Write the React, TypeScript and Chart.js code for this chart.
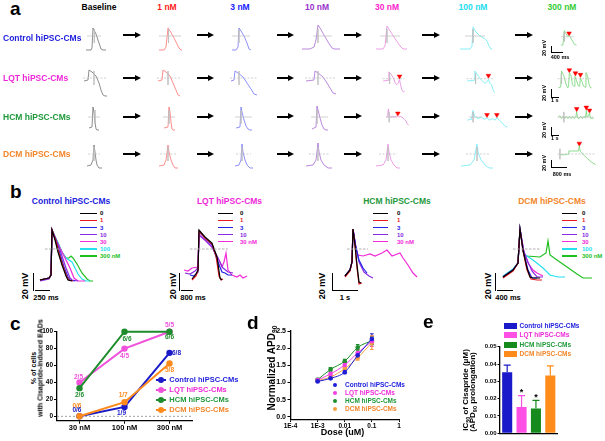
import React, { useEffect, useRef } from 'react';
import { Chart, registerables } from 'chart.js';

Chart.register(...registerables);

const FONT = '"Liberation Sans", Arial, Helvetica, sans-serif';

// ================= DATA =================
// ---- panel a ----
const aColumns = ['Baseline', '1 nM', '3 nM', '10 nM', '30 nM', '100 nM', '300 nM'];
const aRows = ['Control hiPSC-CMs', 'LQT hiPSC-CMs', 'HCM hiPSC-CMs', 'DCM hiPSC-CMs'];

// traces: [time ms, membrane potential mV]
const aCtrl0 = [[0,-56],[150,-56],[180,-48],[210,32],[240,24],[300,8],[360,-16],[420,-40],[450,-52],[510,-56],[600,-56]];
const aCtrl1 = [[0,-56],[150,-56],[210,-44],[270,32],[330,20],[420,0],[510,-24],[600,-48],[660,-56],[690,-56]];
const aCtrl3 = [[0,-56],[120,-56],[180,-44],[210,32],[270,20],[360,0],[450,-28],[510,-52],[570,-56]];
const aCtrl10 = [[0,-52],[240,-52],[360,-44],[420,-16],[480,44],[540,32],[660,4],[780,-24],[900,-48],[960,-52],[1140,-52]];
const aCtrl30 = [[0,-52],[210,-52],[270,-40],[330,40],[480,8],[600,-16],[720,-40],[810,-52],[930,-52]];
const aCtrl100 = [[0,-52],[300,-52],[360,-40],[390,36],[480,16],[600,0],[720,-8],[810,-20],[870,-40],[930,-52],[960,-52]];
const aCtrl300 = [[150,-48],[240,-48],[300,36],[360,20],[450,4],[510,8],[570,-4],[660,-24],[750,-44],[840,-48]];

const aLqt0 = [[100,-12],[500,-8],[600,32],[900,24],[1300,8],[1600,-20],[1800,-48],[2000,-68],[2200,-72],[2400,-72]];
const aLqt1 = [[100,-12],[500,-8],[600,32],[900,24],[1300,8],[1600,-20],[1900,-48],[2100,-68],[2300,-72]];
const aLqt3 = [[100,-12],[400,-8],[500,28],[800,20],[1300,4],[1700,-20],[2100,-44],[2400,-64],[2700,-68]];
const aLqt10 = [[100,-12],[900,-8],[1000,28],[1300,20],[1800,4],[2200,-20],[2500,-40],[2800,-60],[3100,-64]];
const aLqt30 = [[100,-12],[800,-8],[900,36],[1200,24],[1600,0],[1800,-24],[2000,-32],[2200,-24],[2400,-4],[2500,-24],[2700,-56],[2900,-68],[3100,-68]];
const aLqt100 = [[100,-12],[1000,-8],[1100,40],[1400,24],[1800,0],[2200,-16],[2500,-24],[2700,-16],[2900,-4],[3100,-24],[3300,-32],[3500,-56],[3700,-72]];
const aLqt300 = [[100,-48],[400,-44],[500,40],[800,16],[1100,-32],[1300,-48],[1400,-40],[1500,32],[1700,16],[1900,-32],[2100,-40],[2200,12],[2400,-8],[2600,-36],[2800,-40],[2900,4],[3100,-16],[3300,-40],[3500,-44],[3600,32],[3800,16],[4000,-32],[4200,-48],[4300,-48]];

const aHcm0 = [[100,-44],[400,-40],[500,40],[600,20],[700,-20],[800,-48],[900,-52],[1100,-52]];
const aHcm1 = [[100,-44],[500,-40],[600,40],[700,20],[800,-20],[900,-48],[1000,-52],[1200,-52]];
const aHcm3 = [[100,-44],[500,-40],[600,40],[700,20],[900,-12],[1100,-36],[1300,-48],[1500,-52],[1700,-52]];
const aHcm10 = [[100,-48],[500,-40],[600,44],[700,28],[900,-4],[1100,-32],[1300,-48],[1500,-52],[1700,-52]];
const aHcm30 = [[100,0],[300,4],[400,44],[500,8],[700,0],[1000,4],[1300,0],[1600,8],[1800,0],[2100,4],[2400,-4],[2600,-12],[2800,-20],[3000,-36],[3200,-44]];
const aHcm100 = [[100,-16],[600,-12],[800,36],[1000,4],[1400,-8],[1800,0],[2200,-12],[2500,-4],[2800,-16],[3200,-8],[3500,-16],[3700,-4],[4000,-16],[4300,-28],[4600,-44],[4800,-52],[5000,-52]];
const aHcm300 = [[100,0],[300,8],[500,-8],[700,4],[900,-8],[1100,4],[1300,-8],[1500,4],[1700,-8],[1900,4],[2100,-8],[2300,4],[2400,28],[2500,-4],[2700,-8],[2900,4],[3100,-8],[3300,4],[3500,-4],[3600,36],[3700,0],[3900,8],[4000,24],[4100,-4],[4300,-8],[4500,-4]];

const aDcm0 = [[50,-48],[250,-44],[350,-24],[400,36],[450,8],[500,-24],[550,-44],[650,-56],[800,-56]];
const aDcm1 = [[50,-48],[300,-44],[400,-24],[500,36],[550,8],[650,-24],[750,-44],[850,-56],[1000,-56]];
const aDcm3 = [[50,-48],[250,-44],[350,-24],[400,40],[450,8],[550,-24],[650,-44],[800,-56],[950,-56]];
const aDcm10 = [[50,-48],[400,-44],[550,-24],[650,44],[700,8],[800,-24],[950,-44],[1150,-56],[1350,-56]];
const aDcm30 = [[50,-48],[400,-44],[550,-24],[650,40],[700,8],[800,-24],[950,-44],[1100,-56],[1250,-56]];
const aDcm100 = [[50,-48],[500,-44],[700,-24],[850,40],[900,8],[1050,-24],[1250,-44],[1450,-56],[1650,-56]];
const aDcm300 = [[150,-4],[450,-4],[650,0],[700,16],[850,16],[1100,16],[1300,16],[1350,44],[1400,16],[1600,-4],[1850,-24],[2100,-44],[2350,-56]];

// early after-depolarisation markers [ms, mV]
const aEadCtrl300 = [[510,20]];
const aEadLqt30 = [[2400,12]];
const aEadLqt100 = [[2900,16]];
const aEadLqt300 = [[1500,45],[2270,29],[2900,21]];
const aEadHcm30 = [[1700,20]];
const aEadHcm100 = [[2500,12],[3700,12]];
const aEadHcm300 = [[2400,44],[3600,52],[4000,36]];
const aEadDcm300 = [[1350,56]];

// grey reference cross per trace: [h start ms, h end ms, vertical at ms]
const aCross = [
  [[30,450,250],[0,660,285],[0,540,210],[330,900,480],[120,720,330],[150,750,390],[150,720,300]],
  [[0,2400,1100],[0,2400,1100],[0,2800,900],[0,3100,1300],[0,3100,1000],[0,3700,1200],[0,4300,500]],
  [[0,1200,700],[0,1200,600],[0,1700,600],[0,1700,600],[100,1600,500],[300,1800,800],[0,4500,800]],
  [[100,700,400],[100,900,500],[100,850,400],[200,1200,650],[200,1100,650],[300,1500,850],[0,2350,150]],
];

// ---- panel b ----
const bLabels7 = ['0', '1', '3', '10', '30', '100', '300 nM'];
const bLabels5 = ['0', '1', '3', '10', '30 nM'];

const bCtrl0 = [[40,-62],[220,-58],[260,-52],[280,38],[340,18],[400,-6],[480,-32],[560,-54],[600,-62],[680,-64]];
const bCtrl1 = [[40,-62],[220,-58],[260,-52],[280,38],[360,16],[420,-8],[500,-34],[580,-56],[620,-62],[700,-64]];
const bCtrl3 = [[40,-62],[220,-58],[260,-52],[280,38],[360,16],[440,-10],[520,-36],[600,-56],[640,-62],[740,-64]];
const bCtrl10 = [[40,-64],[220,-60],[260,-52],[280,38],[380,14],[460,-8],[560,-38],[640,-58],[680,-62],[800,-64]];
const bCtrl30 = [[40,-62],[220,-58],[260,-52],[280,38],[380,14],[480,-6],[540,-18],[640,-38],[720,-58],[800,-64],[940,-64]];
const bCtrl100 = [[40,-62],[220,-58],[260,-52],[280,38],[400,12],[480,-6],[560,-18],[680,-26],[800,-50],[880,-60],[960,-64],[1040,-64]];
const bCtrl300 = [[40,-62],[220,-58],[260,-52],[280,38],[400,12],[480,-6],[560,-18],[620,-18],[660,-14],[700,-18],[780,-30],[880,-48],[980,-60],[1040,-64],[1100,-64]];

const bLqt0 = [[840,-60],[1120,-50],[1260,-42],[1330,38],[1750,24],[2240,12],[2590,-16],[2800,-58],[2940,-62]];
const bLqt1 = [[840,-62],[1120,-54],[1260,-44],[1330,36],[1750,22],[2240,10],[2520,-14],[2730,-54],[2870,-62],[3010,-60]];
const bLqt3 = [[700,-52],[980,-54],[1260,-46],[1330,34],[1750,22],[2240,8],[2660,-26],[2940,-46],[3150,-48],[3360,-52],[3640,-52]];
const bLqt10 = [[350,-48],[700,-50],[1050,-44],[1260,-38],[1330,28],[1750,18],[2240,4],[2800,-26],[3010,-38],[3360,-46],[3710,-48]];
const bLqt30 = [[280,-42],[560,-44],[840,-38],[1260,-36],[1330,28],[1750,18],[2240,4],[2660,-18],[2940,-36],[3080,-26],[3220,-8],[3360,-42],[3640,-52],[3990,-56],[4200,-52],[4410,-58],[4690,-54]];

const bHcm0 = [[200,-54],[400,-42],[480,-26],[520,40],[600,8],[680,-32],[760,-66],[840,-68]];
const bHcm1 = [[200,-56],[400,-44],[480,-26],[520,40],[600,6],[680,-38],[760,-70],[880,-68]];
const bHcm3 = [[200,-54],[400,-42],[480,-26],[520,40],[640,2],[760,-22],[920,-38],[1080,-48]];
const bHcm10 = [[200,-54],[400,-42],[480,-26],[520,40],[640,2],[760,-26],[960,-46],[1160,-54],[1320,-58]];
const bHcm30 = [[200,-54],[400,-42],[480,-26],[520,40],[640,2],[720,-12],[920,-14],[1200,-10],[1400,-14],[1680,-8],[1880,-2],[2080,-14],[2400,-8],[2520,-18],[2720,-32],[2920,-48],[3080,-56]];

const bDcm0 = [[125,-56],[375,-42],[500,-28],[550,40],[625,-2],[725,-38],[800,-56],[875,-58],[1050,-58]];
const bDcm1 = [[125,-58],[375,-44],[500,-28],[550,40],[625,-4],[725,-42],[825,-60],[975,-62],[1100,-62]];
const bDcm3 = [[125,-56],[375,-42],[500,-28],[550,40],[625,-4],[750,-42],[850,-58],[975,-58]];
const bDcm10 = [[125,-56],[375,-42],[500,-28],[550,40],[650,-6],[750,-26],[850,-44],[975,-56],[1125,-56]];
const bDcm30 = [[125,-56],[375,-42],[500,-28],[550,40],[650,-6],[750,-28],[875,-42],[975,-48],[1125,-54]];
const bDcm100 = [[125,-54],[375,-40],[500,-28],[550,40],[650,-10],[725,-14],[875,-22],[1125,-38],[1300,-52],[1500,-56],[1675,-56]];
const bDcm300 = [[125,-56],[375,-42],[500,-28],[550,40],[650,-12],[725,-14],[1050,-16],[1200,-8],[1250,16],[1300,-12],[1475,-22],[1725,-36],[1975,-50],[2125,-58],[2350,-58]];

// ---- panel c ----
const cDoses = ['30 nM', '100 nM', '300 nM'];
const cCtrl = [0, 11.1, 75];
const cLqt = [40, 80, 100];
const cHcm = [33.3, 100, 100];
const cDcm = [0, 16.7, 62.5];
const cCtrlN = ['0/6', '1/9', '6/8'];
const cLqtN = ['2/5', '4/5', '5/5'];
const cHcmN = ['2/6', '6/6', '6/6'];
const cDcmN = ['0/6', '1/7', '5/8'];
const cYTicks = [0, 20, 40, 60, 80, 100];

// ---- panel d ----
const dDose = [0.001, 0.003, 0.01, 0.03, 0.1];
const dCtrl = [1.03, 1.12, 1.30, 1.79, 2.27];
const dCtrlErr = [0.03, 0.03, 0.04, 0.08, 0.15];
const dLqt = [1.07, 1.25, 1.51, 1.86, 2.20];
const dLqtErr = [0.04, 0.04, 0.06, 0.10, 0.15];
const dHcm = [1.08, 1.38, 1.62, 2.02, 2.22];
const dHcmErr = [0.04, 0.05, 0.05, 0.08, 0.12];
const dDcm = [1.05, 1.16, 1.40, 1.72, 2.16];
const dDcmErr = [0.03, 0.04, 0.05, 0.07, 0.20];
const dXTicks = [1e-4, 1e-3, 0.01, 0.1, 1];
const dXTickLabels = ['1E-4', '1E-3', '0.01', '0.1', '1'];
const dYTicks = [0, 0.5, 1.0, 1.5, 2.0, 2.5];

// ---- panel e ----
const eGroups = ['Control hiPSC-CMs', 'LQT hiPSC-CMs', 'HCM hiPSC-CMs', 'DCM hiPSC-CMs'];
const eIC50 = [0.0352, 0.0152, 0.0143, 0.0333];
const eSem = [0.0042, 0.0066, 0.0047, 0.0056];
const eSig = ['', '*', '*', ''];
const eYTicks = [0, 0.01, 0.02, 0.03, 0.04, 0.05];
const eYTickLabels = ['0.00', '0.01', '0.02', '0.03', '0.04', '0.05'];

// ================= STYLE / LAYOUT =================
const GROUP_TEXT = ['#2222dd', '#ee28d8', '#1f993b', '#f2862a'];
const C_COL = ['#1a1ac8', '#f052dc', '#1e8c2c', '#ff8a1c'];
const D_COL = ['#1e1ed6', '#f040e0', '#1e8e2e', '#f7a040'];
const E_COL = ['#1a1acb', '#ff50e6', '#168a1c', '#ff8c1a'];
const HEAD_COL = ['#000000', '#ff1a1a', '#2020ff', '#9932cc', '#ff22cc', '#22ddee', '#33cc33'];
const A_TRACE_COL = ['#7a7a7a', '#ff7a7a', '#7c7cff', '#ae72d8', '#e88ee2', '#74ecf6', '#7cd67c'];
const B_COL = ['#000000', '#e8191f', '#2424e6', '#8a2be2', '#f22ad8', '#24e1ee', '#1fbf1f'];

const aTraceSets = [
  [aCtrl0, aCtrl1, aCtrl3, aCtrl10, aCtrl30, aCtrl100, aCtrl300],
  [aLqt0, aLqt1, aLqt3, aLqt10, aLqt30, aLqt100, aLqt300],
  [aHcm0, aHcm1, aHcm3, aHcm10, aHcm30, aHcm100, aHcm300],
  [aDcm0, aDcm1, aDcm3, aDcm10, aDcm30, aDcm100, aDcm300],
];
const aEads: any = {
  '0-6': aEadCtrl300, '1-4': aEadLqt30, '1-5': aEadLqt100, '1-6': aEadLqt300,
  '2-4': aEadHcm30, '2-5': aEadHcm100, '2-6': aEadHcm300, '3-6': aEadDcm300,
};
const aRowBox = [
  { top: 24, h: 29, yMax: 48, yMin: -68, mspp: 30, dash: [] as number[], label: 38, arrow: 35 },
  { top: 62, h: 38, yMax: 64, yMin: -88, mspp: 100, dash: [2, 1.5], label: 78, arrow: 78 },
  { top: 100, h: 35, yMax: 68, yMin: -72, mspp: 100, dash: [] as number[], label: 117, arrow: 116.5 },
  { top: 136, h: 36, yMax: 72, yMin: -72, mspp: 50, dash: [2, 1.5], label: 154, arrow: 154 },
];
const aColBox = [
  [[86,20],[159,23],[232,20],[302,38],[376,31],[460,32],[553,28]],
  [[83,24],[157,24],[230,28],[305,31],[378,31],[462,37],[553,43]],
  [[88,12],[163,12],[235,17],[311,17],[381,33],[462,50],[553,45]],
  [[86,16],[158,20],[234,19],[305,27],[375,25],[460,33],[553,47]],
];
const aHeadX = [99, 167, 240, 317, 387, 473, 562];
const aArrowX = [[123,141],[197,214],[277,294],[344,362],[422,440],[515,533]];

// ================= HELPERS =================
function ChartCanvas({ l, t, w, h, make }: any) {
  const ref = useRef<HTMLCanvasElement>(null);
  useEffect(() => {
    const c = new Chart(ref.current as HTMLCanvasElement, make());
    return () => c.destroy();
  }, []);
  return (
    <canvas ref={ref} width={w} height={h}
      style={{ position: 'absolute', left: l, top: t, width: w, height: h, pointerEvents: 'none' }} />
  );
}

function T({ x, y, size, color = '#000', align = 'left', rot = false, weight = 'bold', children }: any) {
  const tx = align === 'center' ? '-50%' : align === 'right' ? '-100%' : '0';
  const transform = rot ? 'translate(-50%,-50%) rotate(-90deg)' : `translate(${tx},-50%)`;
  return (
    <div style={{ position: 'absolute', left: x, top: y, transform, fontFamily: FONT, fontWeight: weight,
      fontSize: size, lineHeight: 1, color, whiteSpace: 'nowrap' }}>{children}</div>
  );
}

function R({ x, y, w, h, c = '#000', r = 0 }: any) {
  return <div style={{ position: 'absolute', left: x, top: y, width: w, height: h, background: c, borderRadius: r }} />;
}

function Arrow({ x1, x2, y }: any) {
  return (
    <>
      <R x={x1} y={y - 1} w={x2 - x1 - 5} h={2} />
      <div style={{ position: 'absolute', left: x2 - 6, top: y - 3.5, width: 0, height: 0,
        borderLeft: '6px solid #000', borderTop: '3.5px solid transparent', borderBottom: '3.5px solid transparent' }} />
    </>
  );
}

const Sub = ({ children }: any) => (
  <span style={{ fontSize: '0.68em', verticalAlign: '-0.3em', lineHeight: 0 }}>{children}</span>
);

const toXY = (pts: number[][]) => pts.map(([x, y]) => ({ x, y }));
const lineDs = (pts: number[][], color: string, width = 1, dash: number[] = []) => ({
  data: toXY(pts), showLine: true, borderColor: color, borderWidth: width, borderDash: dash,
  pointRadius: 0, pointHoverRadius: 0, fill: false, tension: 0, clip: false,
});

function traceConfig(xMax: number, yMin: number, yMax: number, datasets: any[]) {
  return {
    type: 'scatter',
    data: { datasets },
    options: {
      responsive: false, animation: false, events: [],
      layout: { padding: 0 },
      plugins: { legend: { display: false }, tooltip: { enabled: false } },
      scales: {
        x: { type: 'linear', display: false, min: 0, max: xMax },
        y: { type: 'linear', display: false, min: yMin, max: yMax },
      },
    },
  };
}

const fixBox = (w?: number, h?: number) => (s: any) => {
  if (w !== undefined) s.width = w;
  if (h !== undefined) s.height = h;
  s.paddingTop = 0; s.paddingBottom = 0; s.paddingLeft = 0; s.paddingRight = 0;
};
const axisGrid = (len: number) => ({ display: true, drawOnChartArea: false, drawTicks: true, tickLength: len, color: '#000', lineWidth: 1, offset: false });
const axisBorder = { display: true, color: '#000', width: 1.3 };
const tickFont = (size: number) => ({ family: FONT, size, weight: 'bold' as const });

function makeErrPlugin(id: string, after: boolean, halfCap: number, upOnly: boolean) {
  const draw = (chart: any) => {
    const ctx = chart.ctx; const ys = chart.scales.y;
    chart.data.datasets.forEach((ds: any, i: number) => {
      if (!ds.errors) return;
      const meta = chart.getDatasetMeta(i);
      meta.data.forEach((el: any, j: number) => {
        const v = ds.data[j]; const val = typeof v === 'number' ? v : v.y;
        const e = ds.errors[j];
        const yTop = ys.getPixelForValue(val + e);
        const yBot = upOnly ? ys.getPixelForValue(val) : ys.getPixelForValue(val - e);
        const color = Array.isArray(ds.borderColor) ? ds.borderColor[j] : ds.borderColor;
        ctx.save(); ctx.strokeStyle = color; ctx.lineWidth = 1.2;
        ctx.beginPath();
        ctx.moveTo(el.x, yBot); ctx.lineTo(el.x, yTop);
        ctx.moveTo(el.x - halfCap, yTop); ctx.lineTo(el.x + halfCap, yTop);
        if (!upOnly) { ctx.moveTo(el.x - halfCap, yBot); ctx.lineTo(el.x + halfCap, yBot); }
        ctx.stroke(); ctx.restore();
      });
    });
  };
  return after ? { id, afterDatasetsDraw: draw } : { id, beforeDatasetsDraw: draw };
}

// ================= PANEL a =================
function PanelA() {
  const items: any[] = [];
  aRowBox.forEach((row, r) => {
    aColBox[r].forEach(([left, width], c) => {
      const xMax = width * row.mspp;
      const [h0, h1, vx] = aCross[r][c];
      const ead = aEads[`${r}-${c}`];
      const ds: any[] = [
        lineDs([[h0, 0], [h1, 0]], '#bdbdbd', 0.7, row.dash),
        lineDs([[vx, 28], [vx, -28]], '#bdbdbd', 0.7),
        lineDs(aTraceSets[r][c], A_TRACE_COL[c], 0.85),
      ];
      if (ead) ds.push({ data: toXY(ead), showLine: false, pointStyle: 'triangle', rotation: 180, pointRadius: 2.7,
        backgroundColor: '#ff0000', borderColor: '#ff0000', borderWidth: 0.5, clip: false });
      items.push(<ChartCanvas key={`a${r}-${c}`} l={left} t={row.top} w={width} h={row.h}
        make={() => traceConfig(xMax, row.yMin, row.yMax, ds)} />);
    });
    aArrowX.forEach(([x1, x2], k) => items.push(<Arrow key={`ar${r}-${k}`} x1={x1} x2={x2} y={row.arrow} />));
    items.push(<T key={`rl${r}`} x={3} y={row.label} size={8.5} color={GROUP_TEXT[r]}>{aRows[r]}</T>);
  });
  aColumns.forEach((name, c) => items.push(
    <T key={`h${c}`} x={aHeadX[c]} y={7} size={8.5} color={HEAD_COL[c]} align="center">{name}</T>));
  return (
    <>
      <T x={10} y={8.4} size={19}>a</T>
      {items}
      {/* scale bars */}
      <R x={550.5} y={46} w={1.3} h={6.5} /><R x={550.5} y={51.5} w={12.5} h={1.3} />
      <T x={545} y={48} size={5.5} rot>20 mV</T>
      <T x={560} y={57.5} size={5.5} align="center">400 ms</T>
      <R x={550.5} y={89} w={1.3} h={8.5} /><R x={550.5} y={96.5} w={8.5} h={1.3} />
      <T x={545} y={92.5} size={5.5} rot>20 mV</T>
      <T x={551} y={101} size={5.5}>1 s</T>
      <R x={550.5} y={127} w={1.3} h={8.5} /><R x={550.5} y={134.5} w={8.5} h={1.3} />
      <T x={545} y={130} size={5.5} rot>20 mV</T>
      <T x={551} y={139} size={5.5}>1 s</T>
      <R x={550.5} y={160} w={1.3} h={7.5} /><R x={550.5} y={166.5} w={16.5} h={1.3} />
      <T x={545} y={163} size={5.5} rot>20 mV</T>
      <T x={562} y={175} size={5.5} align="center">800 ms</T>
    </>
  );
}

// ================= PANEL b =================
const bGroups = [
  { title: aRows[0], color: GROUP_TEXT[0], traces: [bCtrl0, bCtrl1, bCtrl3, bCtrl10, bCtrl30, bCtrl100, bCtrl300], labels: bLabels7,
    box: [38, 57], mspp: 20, zero: [140, 440], titleX: 71, legLine: [80, 97], legText: 100,
    vbar: 32.5, hbar: [35, 50], mvX: 25, sLabel: '250 ms', sX: 46 },
  { title: aRows[1], color: GROUP_TEXT[1], traces: [bLqt0, bLqt1, bLqt3, bLqt10, bLqt30], labels: bLabels5,
    box: [180, 70], mspp: 70, zero: [700, 3360], titleX: 229.5, legLine: [218, 233], legText: 240,
    vbar: 178.5, hbar: [181, 193], mvX: 173, sLabel: '800 ms', sX: 193 },
  { title: aRows[2], color: GROUP_TEXT[2], traces: [bHcm0, bHcm1, bHcm3, bHcm10, bHcm30], labels: bLabels5,
    box: [340, 85], mspp: 40, zero: [280, 1120], titleX: 397, legLine: [373, 388], legText: 397,
    vbar: 331.5, hbar: [333, 358], mvX: 322, sLabel: '1 s', sX: 345 },
  { title: aRows[3], color: GROUP_TEXT[3], traces: [bDcm0, bDcm1, bDcm3, bDcm10, bDcm30, bDcm100, bDcm300], labels: bLabels7,
    box: [498, 102], mspp: 25, zero: [375, 1050], titleX: 552, legLine: [562, 577], legText: 582,
    vbar: 494.5, hbar: [497, 513], mvX: 488, sLabel: '400 ms', sX: 508 },
];

function PanelB() {
  return (
    <>
      <T x={10} y={191} size={19}>b</T>
      {bGroups.map((g, gi) => {
        const ds: any[] = [lineDs([[g.zero[0], 0], [g.zero[1], 0]], '#a8a8a8', 0.9, [2.5, 1.5])];
        g.traces.forEach((tr, k) => ds.push(lineDs(tr, B_COL[k], 1.2)));
        return (
          <React.Fragment key={`b${gi}`}>
            <T x={g.titleX} y={201} size={8.5} color={g.color} align="center">{g.title}</T>
            {g.labels.map((lab, k) => (
              <React.Fragment key={`bl${gi}-${k}`}>
                <R x={g.legLine[0]} y={213.3 + k * 7.1 - 0.75} w={g.legLine[1] - g.legLine[0]} h={1.5} c={B_COL[k]} />
                <T x={g.legText} y={213.3 + k * 7.1} size={6} color={B_COL[k]}>{lab}</T>
              </React.Fragment>
            ))}
            <ChartCanvas l={g.box[0]} t={222} w={g.box[1]} h={66}
              make={() => traceConfig(g.box[1] * g.mspp, -78, 54, ds)} />
            <R x={g.vbar} y={272.5} w={1.5} h={18} />
            <R x={g.hbar[0]} y={289.8} w={g.hbar[1] - g.hbar[0]} h={1.5} />
            <T x={g.mvX} y={286} size={9} rot>20 mV</T>
            <T x={g.sX} y={298} size={7.5} align="center">{g.sLabel}</T>
          </React.Fragment>
        );
      })}
    </>
  );
}

// ================= PANEL c =================
const cSeries = [
  { name: 'HCM', data: cHcm, n: cHcmN, col: C_COL[2], off: [[0, 6.7], [2.5, 7.6], [0, 5.7]] },
  { name: 'DCM', data: cDcm, n: cDcmN, col: C_COL[3], off: [[-2.6, -10], [-1.3, -7], [0, 6.3]] },
  { name: 'LQT', data: cLqt, n: cLqtN, col: C_COL[1], off: [[-1, -5], [0, 8], [0, -6.5]] },
  { name: 'Control', data: cCtrl, n: cCtrlN, col: C_COL[0], off: [[-2.6, -6], [-3, 6], [2.5, 0, 'left']] },
];

const cZeroPlugin = {
  id: 'czero',
  beforeDatasetsDraw(chart: any) {
    const { ctx, chartArea } = chart; const y = chart.scales.y.getPixelForValue(0);
    ctx.save(); ctx.strokeStyle = '#9a9a9a'; ctx.lineWidth = 0.9; ctx.setLineDash([2, 2]);
    ctx.beginPath(); ctx.moveTo(chartArea.left, y); ctx.lineTo(chartArea.right, y); ctx.stroke(); ctx.restore();
  },
};
const cLabelPlugin = {
  id: 'clabels',
  afterDatasetsDraw(chart: any) {
    const ctx = chart.ctx;
    chart.data.datasets.forEach((ds: any, i: number) => {
      const meta = chart.getDatasetMeta(i);
      ds.fractions.forEach((txt: string, j: number) => {
        const p = meta.data[j]; const o = ds.labelOffsets[j];
        ctx.save(); ctx.font = `bold 6.5px ${FONT}`; ctx.fillStyle = ds.borderColor;
        ctx.textAlign = o[2] || 'center'; ctx.textBaseline = 'middle';
        ctx.fillText(txt, p.x + o[0], p.y + o[1]); ctx.restore();
      });
    });
  },
};

function PanelC() {
  const make = () => ({
    type: 'line',
    data: {
      labels: cDoses,
      datasets: cSeries.map(s => ({
        label: s.name, data: s.data, borderColor: s.col, backgroundColor: s.col, pointBackgroundColor: s.col,
        borderWidth: 2, pointRadius: 3.2, pointBorderWidth: 0, tension: 0, clip: false,
        fractions: s.n, labelOffsets: s.off,
      })),
    },
    options: {
      responsive: false, animation: false, events: [],
      layout: { padding: { left: 0, right: 13, top: 11.7, bottom: 0 } },
      plugins: { legend: { display: false }, tooltip: { enabled: false } },
      scales: {
        x: { type: 'category', offset: true, grid: axisGrid(3), border: axisBorder,
          ticks: { font: tickFont(7.5), color: '#000', padding: 0, maxRotation: 0, minRotation: 0, autoSkip: false },
          afterFit: fixBox(undefined, 20.3) },
        y: { type: 'linear', min: -5.2, max: 100, grid: axisGrid(3), border: axisBorder,
          afterBuildTicks: (s: any) => { s.ticks = cYTicks.map(v => ({ value: v })); },
          ticks: { font: tickFont(6.5), color: '#000', padding: 1, callback: (v: any) => String(v) },
          afterFit: fixBox(17) },
      },
    },
    plugins: [cZeroPlugin, cLabelPlugin],
  });
  const legY = [380, 389.7, 399.7, 410];
  return (
    <>
      <T x={10} y={323} size={19}>c</T>
      <ChartCanvas l={40} t={320} w={165} h={121} make={make} />
      <T x={33} y={368} size={7} rot>% of cells</T>
      <T x={39.8} y={368} size={7} rot>with Cisapride-induced EADs</T>
      {aRows.map((name, i) => (
        <React.Fragment key={`cl${i}`}>
          <R x={156} y={legY[i] - 1} w={9.5} h={2} c={C_COL[i]} />
          <R x={157.7} y={legY[i] - 3} w={6} h={6} c={C_COL[i]} r={3} />
          <T x={169.3} y={legY[i]} size={7.5} color={GROUP_TEXT[i]}>{name}</T>
        </React.Fragment>
      ))}
    </>
  );
}

// ================= PANEL d =================
function PanelD() {
  const series = [
    { name: 'Control', v: dCtrl, e: dCtrlErr, col: D_COL[0] },
    { name: 'LQT', v: dLqt, e: dLqtErr, col: D_COL[1] },
    { name: 'HCM', v: dHcm, e: dHcmErr, col: D_COL[2] },
    { name: 'DCM', v: dDcm, e: dDcmErr, col: D_COL[3] },
  ];
  const make = () => ({
    type: 'scatter',
    data: {
      datasets: series.map(s => ({
        label: s.name, data: dDose.map((x, i) => ({ x, y: s.v[i] })), errors: s.e,
        showLine: true, cubicInterpolationMode: 'monotone', borderColor: s.col, backgroundColor: s.col,
        borderWidth: 1, pointRadius: 2.3, pointBorderWidth: 0, clip: false,
      })),
    },
    options: {
      responsive: false, animation: false, events: [],
      layout: { padding: { left: 0, right: 11, top: 16, bottom: 0 } },
      plugins: { legend: { display: false }, tooltip: { enabled: false } },
      scales: {
        x: { type: 'logarithmic', min: 1e-4, max: 1, grid: axisGrid(2.5), border: axisBorder,
          afterBuildTicks: (s: any) => { s.ticks = dXTicks.map(v => ({ value: v })); },
          ticks: { font: tickFont(6.5), color: '#000', padding: 0, maxRotation: 0, minRotation: 0, autoSkip: false,
            callback: (_v: any, i: number) => dXTickLabels[i] },
          afterFit: fixBox(undefined, 21.5) },
        y: { type: 'linear', min: -0.08, max: 2.5, grid: axisGrid(3), border: axisBorder,
          afterBuildTicks: (s: any) => { s.ticks = dYTicks.map(v => ({ value: v })); },
          ticks: { font: tickFont(7), color: '#000', padding: 1.5, callback: (v: any) => Number(v).toFixed(1) },
          afterFit: fixBox(40.5) },
      },
    },
    plugins: [makeErrPlugin('derr', false, 1.8, false)],
  });
  const legY = [385, 393, 401, 409];
  return (
    <>
      <T x={247} y={321.5} size={19}>d</T>
      <ChartCanvas l={250} t={315} w={160} h={126} make={make} />
      <T x={272} y={368} size={10} rot>Normalized APD<Sub>90</Sub></T>
      <T x={342.5} y={431.5} size={9} align="center">Dose (uM)</T>
      {aRows.map((name, i) => (
        <React.Fragment key={`dl${i}`}>
          <R x={332.7} y={legY[i] - 2.3} w={4.6} h={4.6} c={D_COL[i]} r={2.3} />
          <T x={345} y={legY[i]} size={6.5} color={GROUP_TEXT[i]}>{name}</T>
        </React.Fragment>
      ))}
    </>
  );
}

// ================= PANEL e =================
const eSigPlugin = {
  id: 'esig',
  afterDatasetsDraw(chart: any) {
    const ctx = chart.ctx; const ys = chart.scales.y; const meta = chart.getDatasetMeta(0);
    const ds: any = chart.data.datasets[0];
    ds.sig.forEach((s: string, j: number) => {
      if (!s) return;
      const y = ys.getPixelForValue(ds.data[j] + ds.errors[j]) - 3.3;
      ctx.save(); ctx.font = `bold 9px ${FONT}`; ctx.fillStyle = '#000'; ctx.textAlign = 'center'; ctx.textBaseline = 'middle';
      ctx.fillText(s, meta.data[j].x, y); ctx.restore();
    });
  },
};

function PanelE() {
  const make = () => ({
    type: 'bar',
    data: {
      labels: eGroups,
      datasets: [{ data: eIC50, errors: eSem, sig: eSig, backgroundColor: E_COL, borderColor: E_COL, borderWidth: 0,
        barPercentage: 0.7, categoryPercentage: 1 }],
    },
    options: {
      responsive: false, animation: false, events: [],
      layout: { padding: { left: 0, right: 47.5, top: 26.7, bottom: 0 } },
      plugins: { legend: { display: false }, tooltip: { enabled: false } },
      scales: {
        x: { type: 'category', grid: { display: false }, ticks: { display: false }, border: axisBorder,
          afterFit: fixBox(undefined, 7.7) },
        y: { type: 'linear', min: 0, max: 0.05, grid: axisGrid(2.5), border: axisBorder,
          afterBuildTicks: (s: any) => { s.ticks = eYTicks.map(v => ({ value: v })); },
          ticks: { font: tickFont(6), color: '#000', padding: 1, callback: (_v: any, i: number) => eYTickLabels[i] },
          afterFit: fixBox(60) },
      },
    },
    plugins: [makeErrPlugin('eerr', true, 3.5, true), eSigPlugin],
  });
  const legY = [326, 335.3, 344.7, 354];
  return (
    <>
      <T x={423} y={321.4} size={19}>e</T>
      <ChartCanvas l={440} t={320} w={165} h={121} make={make} />
      <T x={465.5} y={390} size={8} rot>IC<Sub>50</Sub> of Cisapride (μM)</T>
      <T x={473} y={392} size={8} rot>(APD<Sub>90</Sub> prolongation)</T>
      {eGroups.map((name, i) => (
        <React.Fragment key={`el${i}`}>
          <R x={504} y={legY[i] - 3} w={13} h={6} c={E_COL[i]} />
          <T x={519.5} y={legY[i]} size={6.5} color={GROUP_TEXT[i]}>{name}</T>
        </React.Fragment>
      ))}
    </>
  );
}

export default function App() {
  return (
    <div style={{ position: 'absolute', left: 0, top: 0, width: 605, height: 441, background: '#fff', overflow: 'hidden' }}>
      <PanelA />
      <PanelB />
      <PanelC />
      <PanelD />
      <PanelE />
    </div>
  );
}
